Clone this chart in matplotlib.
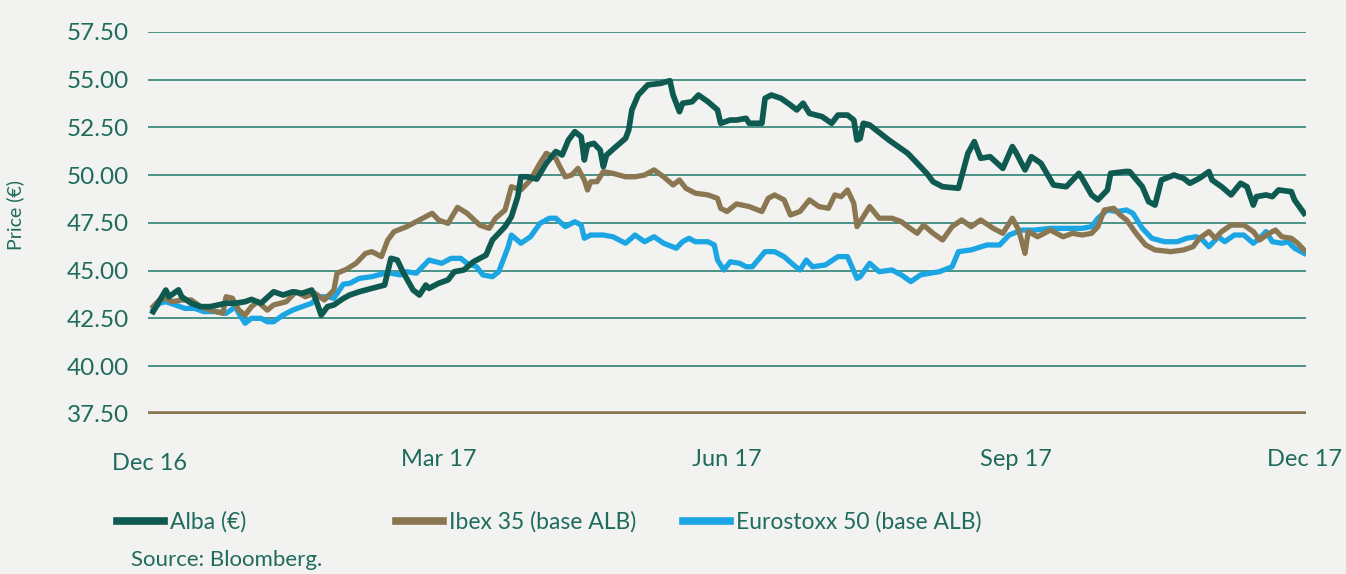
import matplotlib
matplotlib.use("Agg")
import matplotlib.pyplot as plt
from matplotlib.lines import Line2D

# day offsets from 30 Dec 2016, closing prices / rebased index levels
alba_days = [1, 5, 6, 9, 10, 13, 16, 19, 24, 27, 30, 32, 35, 39, 42, 45, 48, 51, 52, 54,
             56, 58, 61, 63, 66, 70, 74, 76, 78, 80, 83, 85, 87, 88, 91, 94, 96, 99, 102, 106,
             108, 112, 114, 116, 117, 119, 122, 125, 128, 130, 132, 134, 136, 137, 138, 140, 142, 143, 144, 147,
             150, 151, 152, 154, 157, 161, 164, 165, 167, 168, 171, 173, 176, 179, 180, 183, 185, 188, 189, 193,
             194, 196, 199, 202, 204, 206, 208, 212, 215, 217, 220, 222, 223, 224, 225, 227, 229, 233, 236, 239,
             242, 245, 247, 250, 255, 258, 260, 262, 265, 269, 272, 273, 276, 278, 281, 285, 289, 293, 294, 297,
             299, 302, 303, 308, 309, 313, 315, 317, 319, 323, 326, 328, 331, 334, 335, 338, 341, 344, 346, 348,
             349, 352, 354, 356, 360, 361, 364]
alba = [42.86, 43.99, 43.64, 44.0, 43.64, 43.3, 43.12, 43.12, 43.3, 43.3, 43.38, 43.5, 43.3, 43.9, 43.73, 43.9, 43.82, 43.99, 43.64, 42.68,
        43.12, 43.21, 43.55, 43.73, 43.9, 44.08, 44.25, 45.65, 45.56, 44.87, 43.99, 43.73, 44.25, 44.08, 44.34, 44.52, 44.95, 45.04, 45.47, 45.82,
        46.61, 47.31, 47.83, 48.88, 49.92, 49.92, 49.8, 50.63, 51.24, 51.06, 51.85, 52.28, 52.02, 50.8, 51.58, 51.67, 51.32, 50.45, 51.06, 51.5,
        51.93, 52.37, 53.42, 54.2, 54.73, 54.81, 54.95, 54.2, 53.33, 53.77, 53.85, 54.2, 53.85, 53.42, 52.72, 52.89, 52.89, 52.98, 52.72, 52.72,
        54.03, 54.2, 54.03, 53.68, 53.42, 53.77, 53.24, 53.07, 52.72, 53.15, 53.15, 52.89, 51.85, 51.93, 52.72, 52.63, 52.37, 51.85, 51.5, 51.15,
        50.63, 50.1, 49.66, 49.4, 49.32, 51.15, 51.76, 50.89, 50.97, 50.36, 51.5, 51.24, 50.28, 50.97, 50.63, 49.49, 49.4, 50.1, 49.84, 48.97,
        48.71, 49.23, 50.1, 50.2, 50.19, 49.4, 48.62, 48.44, 49.75, 50.01, 49.84, 49.58, 49.84, 50.19, 49.75, 49.4, 48.97, 49.58, 49.4, 48.44,
        48.88, 48.97, 48.88, 49.23, 49.14, 48.71, 48.01]

ibex_days = [1, 3, 5, 7, 10, 13, 16, 19, 23, 24, 26, 28, 30, 32, 34, 37, 39, 43, 46, 49,
             52, 55, 58, 59, 62, 65, 68, 70, 73, 75, 77, 81, 85, 89, 91, 94, 97, 100, 104, 107,
             109, 112, 114, 117, 120, 123, 125, 126, 128, 129, 131, 133, 135, 137, 138, 139, 141, 143, 146, 150,
             153, 156, 159, 162, 165, 167, 169, 172, 176, 179, 180, 182, 185, 189, 193, 195, 197, 200, 202, 205,
             208, 211, 214, 216, 218, 220, 222, 223, 225, 227, 230, 234, 237, 239, 242, 244, 247, 250, 253, 256,
             259, 262, 266, 269, 272, 274, 276, 277, 280, 284, 288, 291, 294, 297, 299, 301, 304, 306, 308, 311,
             314, 317, 322, 326, 329, 331, 334, 336, 338, 341, 345, 348, 350, 353, 355, 357, 360, 362, 364]
ibex = [43.12, 43.47, 43.56, 43.38, 43.47, 43.47, 43.12, 42.94, 42.77, 43.64, 43.56, 42.94, 42.68, 43.12, 43.38, 42.94, 43.21, 43.38, 43.9, 43.64,
        43.82, 43.47, 43.99, 44.87, 45.08, 45.39, 45.91, 46.0, 45.74, 46.61, 47.05, 47.31, 47.66, 48.01, 47.66, 47.48, 48.32, 48.01, 47.39, 47.22,
        47.75, 48.18, 49.4, 49.23, 49.75, 50.63, 51.15, 51.06, 50.89, 50.54, 49.92, 50.01, 50.36, 49.75, 49.23, 49.66, 49.66, 50.19, 50.1, 49.92,
        49.92, 50.01, 50.28, 49.92, 49.49, 49.75, 49.32, 49.06, 48.97, 48.79, 48.27, 48.1, 48.5, 48.36, 48.1, 48.79, 48.97, 48.71, 47.92, 48.1,
        48.71, 48.36, 48.27, 48.97, 48.88, 49.23, 48.53, 47.31, 47.83, 48.36, 47.75, 47.75, 47.57, 47.31, 46.96, 47.39, 46.96, 46.61, 47.31, 47.66,
        47.31, 47.66, 47.22, 46.96, 47.75, 47.13, 45.91, 47.05, 46.78, 47.13, 46.78, 46.96, 46.87, 46.96, 47.31, 48.18, 48.27, 47.92, 47.66, 46.96,
        46.35, 46.09, 46.0, 46.09, 46.26, 46.7, 47.05, 46.7, 47.05, 47.39, 47.39, 47.05, 46.61, 46.96, 47.13, 46.78, 46.7, 46.44, 46.09]

stoxx_days = [1, 3, 5, 8, 11, 14, 17, 21, 24, 27, 28, 30, 32, 35, 37, 39, 42, 45, 48, 51,
              53, 56, 58, 61, 63, 66, 70, 74, 76, 79, 81, 84, 88, 92, 95, 98, 100, 103, 105, 108,
              110, 113, 114, 117, 120, 123, 126, 128, 131, 134, 136, 137, 139, 143, 146, 150, 153, 156, 159, 162,
              166, 168, 170, 172, 176, 178, 179, 181, 183, 186, 188, 190, 194, 197, 200, 203, 205, 207, 209, 213,
              217, 220, 223, 224, 227, 230, 234, 237, 240, 243, 246, 249, 253, 255, 259, 264, 268, 271, 275, 279,
              284, 289, 294, 297, 299, 302, 305, 308, 310, 313, 316, 320, 324, 327, 330, 332, 334, 337, 339, 342,
              345, 348, 350, 352, 354, 357, 359, 361, 364]
stoxx = [42.94, 43.3, 43.38, 43.21, 43.03, 43.03, 42.86, 42.86, 42.77, 43.12, 42.77, 42.25, 42.51, 42.51, 42.33, 42.33, 42.68, 42.94, 43.12, 43.3,
         43.64, 43.64, 43.56, 44.3, 44.34, 44.6, 44.69, 44.87, 44.87, 44.78, 44.95, 44.87, 45.56, 45.39, 45.65, 45.65, 45.39, 45.21, 44.78, 44.69,
         44.95, 46.26, 46.87, 46.44, 46.78, 47.48, 47.75, 47.75, 47.31, 47.57, 47.39, 46.7, 46.87, 46.87, 46.78, 46.44, 46.87, 46.52, 46.78, 46.44,
         46.18, 46.52, 46.7, 46.52, 46.52, 46.35, 45.56, 45.04, 45.47, 45.39, 45.21, 45.21, 46.0, 46.0, 45.74, 45.3, 45.04, 45.56, 45.21, 45.3,
         45.74, 45.74, 44.6, 44.69, 45.39, 44.95, 45.04, 44.78, 44.43, 44.78, 44.87, 44.95, 45.21, 46.0, 46.09, 46.35, 46.35, 46.87, 47.13, 47.13,
         47.22, 47.22, 47.22, 47.31, 47.75, 48.18, 48.1, 48.18, 48.01, 47.22, 46.7, 46.52, 46.52, 46.7, 46.78, 46.61, 46.26, 46.78, 46.52, 46.87,
         46.87, 46.44, 46.7, 47.05, 46.52, 46.44, 46.52, 46.18, 45.91]

tick_days = [0, 91, 182, 273, 364]
tick_labels = ["Dec 16", "Mar 17", "Jun 17", "Sep 17", "Dec 17"]
y_ticks = [37.5, 40.0, 42.5, 45.0, 47.5, 50.0, 52.5, 55.0, 57.5]

teal = "#0e5a50"
brown = "#8a7752"
blue = "#1ba6e3"
grid = "#3d8a7f"
text = "#1f6b5d"
bg = "#f2f2f0"

plt.rcParams["font.family"] = ["Lato", "DejaVu Sans"]

fig = plt.figure(figsize=(13.46, 5.74), dpi=100, facecolor=bg)
ax = fig.add_axes([148.4 / 1346, 160 / 574, (1305.6 - 148.4) / 1346, 382 / 574])
ax.set_facecolor(bg)

for y in y_ticks[1:]:
    ax.axhline(y, color=grid, lw=1.3, zorder=1)
ax.axhline(37.5, color=brown, lw=4, zorder=1)

ax.plot(stoxx_days, stoxx, color=blue, lw=3.8, solid_joinstyle="round", zorder=3)
ax.plot(ibex_days, ibex, color=brown, lw=3.8, solid_joinstyle="round", zorder=4)
ax.plot(alba_days, alba, color=teal, lw=4.1, solid_joinstyle="round", zorder=5)

ax.set_xlim(-0.5, 364.5)
ax.set_ylim(37.5, 57.5)
ax.set_yticks(y_ticks)
ax.set_yticklabels([f"{v:.2f}" for v in y_ticks], color=text, fontsize=17.5)
ax.tick_params(axis="y", length=0, pad=14)
ax.set_xticks(tick_days)
ax.set_xticklabels(tick_labels, color=text, fontsize=17)
ax.tick_params(axis="x", length=0, pad=25)
ax.get_xticklabels()[0].set_y(-0.012)
for s in ax.spines.values():
    s.set_visible(False)
ax.set_ylabel("Price (€)", color=text, fontsize=14)
ax.yaxis.set_label_coords(-0.107, 0.52)

# legend row
entries = [("Alba (€)", teal, 117), ("Ibex 35 (base ALB)", brown, 396), ("Eurostoxx 50 (base ALB)", blue, 683)]
for label, c, x0 in entries:
    fig.add_artist(Line2D([x0 / 1346, (x0 + 47) / 1346], [1 - 521 / 574] * 2, color=c, lw=5.5,
                          transform=fig.transFigure))
    fig.text((x0 + 53) / 1346, 1 - 522 / 574, label, color=text, fontsize=16.5, va="center")
fig.text(131 / 1346, 1 - 560 / 574, "Source: Bloomberg.", color=text, fontsize=16, va="center")

fig.savefig("out.png", dpi=100, facecolor=bg)
